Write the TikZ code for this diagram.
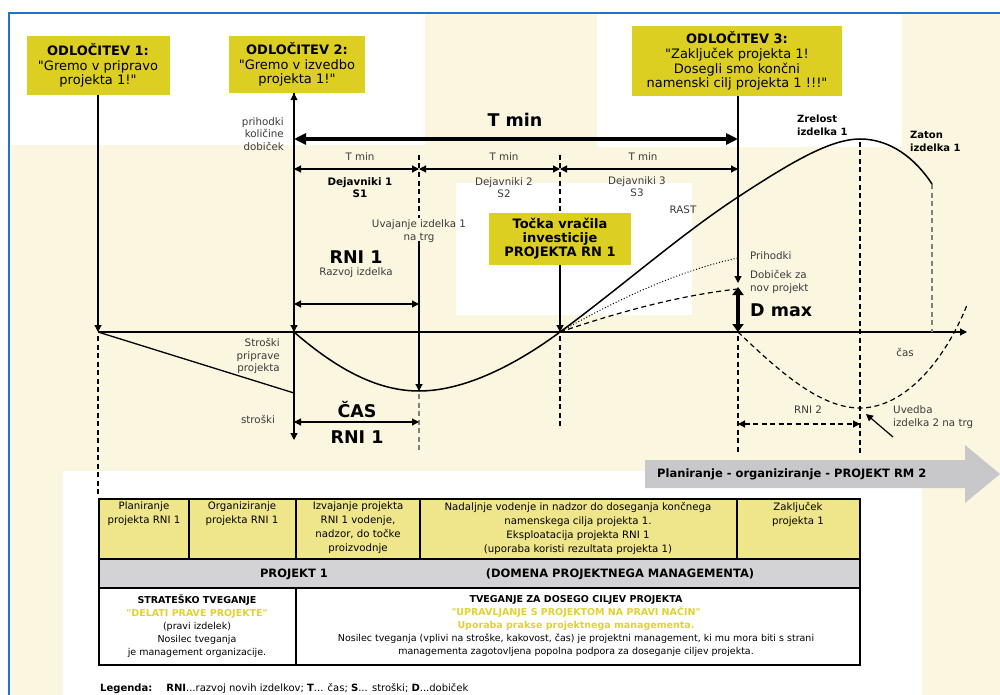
\documentclass[tikz,border=0pt]{standalone}
\usepackage{fontspec}
\setmainfont{DejaVu Sans}
\usetikzlibrary{arrows.meta}

\definecolor{cream}{HTML}{FBF6DF}
\definecolor{boxyellow}{HTML}{DDCF22}
\definecolor{rowyellow}{HTML}{EFE68C}
\definecolor{rowgray}{HTML}{D3D3D5}
\definecolor{arrowgray}{HTML}{C8C8CA}
\definecolor{txtyellow}{HTML}{E0D232}
\definecolor{frameblue}{HTML}{1F74C9}
\definecolor{labelgray}{HTML}{3A3A3A}

\newcommand{\fsmall}{\fontsize{10.3}{12.5}\selectfont}
\newcommand{\ftab}{\fontsize{10.2}{14}\selectfont}
\newcommand{\frisk}{\fontsize{9.5}{13}\selectfont}
\newcommand{\fdec}{\fontsize{13}{14.7}\selectfont}
\newcommand{\fbig}{\fontsize{17.5}{20}\selectfont\bfseries}
\newcommand{\qq}{\textquotedbl}

\begin{document}
\begin{tikzpicture}[x=1pt,y=-1pt,
    decision/.style={fill=boxyellow, inner sep=0pt, align=center, font=\fdec},
    lbl/.style={inner sep=0pt, align=center, text=labelgray, font=\fsmall},
    boldlbl/.style={inner sep=0pt, align=left, font=\fontsize{10}{13}\selectfont\bfseries},
    big/.style={inner sep=0pt, font=\fbig},
    cell/.style={inner sep=0pt, align=center, font=\ftab},
    arr/.style={line width=1.2pt, -{Triangle[length=7pt,width=7pt]}},
    darr/.style={line width=1.2pt, {Triangle[length=7pt,width=7pt]}-{Triangle[length=7pt,width=7pt]}},
    dashline/.style={line width=1.2pt, dash pattern=on 5pt off 3.5pt},
    dotline/.style={line width=1pt, dash pattern=on 1pt off 2pt},
    curve/.style={line width=1.5pt}]
\useasboundingbox (0,0) rectangle (1000,695);

% background
\fill[white] (0,0) rectangle (1000,695);
\fill[cream] (9,13) rectangle (1000,695);
\fill[white] (10,14) rectangle (425,145);
\fill[white] (597,14) rectangle (902,147);
\fill[white] (456,183) rectangle (692,315);
\fill[white] (63,471) rectangle (922,695);
\draw[frameblue, line width=2pt] (9,695) -- (9,13) -- (1000,13);

% decisions
\node[decision, minimum width=143pt, minimum height=59pt] (odl1) at (98,65.5)
    {\textbf{ODLOČITEV 1:}\\\qq Gremo v pripravo\\projekta 1!\qq};
\node[decision, minimum width=136pt, minimum height=57pt] (odl2) at (297,64.5)
    {\textbf{ODLOČITEV 2:}\\\qq Gremo v izvedbo\\projekta 1!\qq};
\node[decision, minimum width=210pt, minimum height=70pt] (odl3) at (737,61)
    {\textbf{ODLOČITEV 3:}\\\qq Zaključek projekta 1!\\Dosegli smo končni\\namenski cilj projekta 1 !!!\qq};
\node[decision, minimum width=142pt, minimum height=52pt, font=\fontsize{13}{14}\selectfont\bfseries] (tocka) at (560,239)
    {Točka vračila\\investicije\\PROJEKTA RN 1};

% axes
\coordinate (t1) at (98,332);
\coordinate (t2) at (294,332);
\coordinate (tb) at (560,332);
\coordinate (t3) at (738,332);
\coordinate (tend) at (967,332);
\coordinate (ybot) at (294,440);
\coordinate (mn) at (419,391);
\coordinate (pk) at (860,139);
\coordinate (zt) at (932,184);
\coordinate (mn2) at (860,408);

\draw[arr] (t1) -- (tend);
\draw[arr] (odl1.south) -- (t1);
\draw[dashline] (98,336) -- (98,495);
\draw[darr] (ybot) -- (odl2.south -| t2);
\draw[arr] (odl2.south -| t2) -- (t2);

% T min
\coordinate (tmL) at (294,139);
\coordinate (tmR) at (738,139);
\draw[line width=3.5pt, {Triangle[length=12pt,width=11pt]}-{Triangle[length=12pt,width=11pt]}] (tmL) -- (tmR);
\node[big] (tmin) at (515,120) {T min};
\node[lbl, align=right, anchor=east] (ydob) at (284,134) {prihodki\\količine\\dobiček};

\coordinate (s0) at (294,169);
\coordinate (s1) at (419,169);
\coordinate (s2) at (560,169);
\coordinate (s3) at (738,169);
\draw[darr] (s0) -- (s1);
\draw[darr] (s1) -- (s2);
\draw[darr] (s2) -- (s3);
\node[lbl] (tmin1) at (360,157) {T min};
\node[lbl] (tmin2) at (504,157) {T min};
\node[lbl] (tmin3) at (643,157) {T min};
\node[lbl, text=black, font=\fontsize{10.3}{12}\selectfont\bfseries] (dej1) at (360,188) {Dejavniki 1\\S1};
\node[lbl, font=\fontsize{10.3}{12}\selectfont] (dej2) at (504,188) {Dejavniki 2\\S2};
\node[lbl, font=\fontsize{10.3}{12}\selectfont] (dej3) at (637,187) {Dejavniki 3\\S3};

% vertical markers
\draw[dashline] (419,155) -- (419,218);
\node[lbl] (uvaj) at (419,231) {Uvajanje izdelka 1\\na trg};
\draw[arr] (419,241) -- (mn);
\draw[dashline, gray] (419,394) -- (419,453);
\draw[dashline] (560,155) -- (tocka.north);
\draw[arr] (tocka.south) -- (tb);
\draw[dashline] (560,336) -- (560,427);
\draw[arr] (odl3.south -| t3) -- (738,283);
\draw[line width=4pt, {Triangle[length=8pt,width=11pt]}-{Triangle[length=8pt,width=11pt]}] (738,287) -- (t3);
\draw[dashline] (738,336) -- (738,453);
\draw[dashline] (860,142) -- (860,453);
\draw[dashline, gray] (zt) -- (932,332);

% RNI 1
\node[big] (rni1) at (356,257) {RNI 1};
\node[lbl] (razvoj) at (356,273) {Razvoj izdelka};
\draw[darr] (294,304) -- (419,304);
\node[big] (cas) at (357,410) {ČAS};
\draw[darr] (294,422) -- (419,422);
\node[big] (rni1b) at (357,437) {RNI 1};
\node[lbl, align=right, anchor=east] (strpr) at (280,356) {Stroški\\priprave\\projekta};
\node[lbl] (str) at (258,419) {stroški};

% curves
\draw[line width=1.3pt] (t1) -- (294,393);
\draw[curve] (t2) .. controls (340,372) and (380,391) .. (mn)
    .. controls (470,391) and (525,358) .. (tb)
    .. controls (620,288) and (680,235) .. (738,197)
    .. controls (790,163) and (830,139) .. (pk)
    .. controls (890,139) and (915,158) .. (zt);
\draw[dotline] (tb) .. controls (630,292) and (690,268) .. (738,258);
\draw[dashline] (tb) .. controls (630,308) and (690,294) .. (738,289);
\draw[dashline] (t3) .. controls (780,372) and (820,408) .. (mn2)
    .. controls (905,408) and (945,360) .. (967,305);

\node[lbl] (rast) at (683,210) {RAST};
\node[lbl, anchor=west] (prih) at (750,256) {Prihodki};
\node[lbl, anchor=west, align=left] (dobnov) at (750,282) {Dobiček za\\nov projekt};
\node[big, anchor=west] (dmax) at (750,310) {D max};
\node[boldlbl, anchor=west] (zrel) at (797,125) {Zrelost\\izdelka 1};
\node[boldlbl, anchor=west] (zaton) at (910,141) {Zaton\\izdelka 1};
\node[lbl] (cas2) at (905,352) {čas};
\node[lbl] (rni2) at (808,410) {RNI 2};
\draw[dashline, {Triangle[length=7pt,width=7pt]}-{Triangle[length=7pt,width=7pt]}] (738,424) -- (860,424);
\node[lbl, anchor=west, align=left] (uvedba) at (893,417) {Uvedba\\izdelka 2 na trg};
\draw[arr] (893,437) -- (866,414);

% RM 2 arrow
\fill[arrowgray] (645,460) -- (965,460) -- (965,445) -- (1000,474) -- (965,503) -- (965,488) -- (645,488) -- cycle;
\node[inner sep=0pt, anchor=west, font=\fontsize{11.5}{12}\selectfont\bfseries] (rm2) at (657,474) {Planiranje - organiziranje - PROJEKT RM 2};

% table
\fill[rowyellow] (99,499) rectangle (860,559);
\fill[rowgray] (99,559) rectangle (860,588);
\fill[white] (99,588) rectangle (860,665);
\draw[line width=1.3pt] (99,499) rectangle (860,665);
\draw[line width=1.3pt] (99,559) -- (860,559);
\draw[line width=1.3pt] (99,588) -- (860,588);
\foreach \cx in {189,296,420,737}
    \draw[line width=1.3pt] (\cx,499) -- (\cx,559);
\draw[line width=1.3pt] (296,588) -- (296,665);

\node[cell] (c1) at (144,514) {Planiranje\\projekta RNI 1};
\node[cell] (c2) at (242,514) {Organiziranje\\projekta RNI 1};
\node[cell] (c3) at (358,528) {Izvajanje projekta\\RNI 1 vodenje,\\nadzor, do točke\\proizvodnje};
\node[cell] (c4) at (578,528) {Nadaljnje vodenje in nadzor do doseganja končnega\\namenskega cilja projekta 1.\\Eksploatacija projekta RNI 1\\(uporaba koristi rezultata projekta 1)};
\node[cell] (c5) at (798,514) {Zaključek\\projekta 1};
\node[cell, font=\fontsize{11.5}{14}\selectfont\bfseries] (proj1) at (294,574) {PROJEKT 1};
\node[cell, font=\fontsize{11.5}{14}\selectfont\bfseries] (domena) at (620,574) {(DOMENA PROJEKTNEGA MANAGEMENTA)};
\node[cell, font=\frisk] (risk1) at (197,626) {\textbf{STRATEŠKO TVEGANJE}\\\textcolor{txtyellow}{\textbf{\qq DELATI PRAVE PROJEKTE\qq}}\\(pravi izdelek)\\Nosilec tveganja\\je management organizacije.};
\node[cell, font=\frisk] (risk2) at (576,626) {\textbf{TVEGANJE ZA DOSEGO CILJEV PROJEKTA}\\\textcolor{txtyellow}{\textbf{\qq UPRAVLJANJE S PROJEKTOM NA PRAVI NAČIN\qq}}\\\textcolor{txtyellow}{\textbf{Uporaba prakse projektnega managementa.}}\\Nosilec tveganja (vplivi na stroške, kakovost, čas) je projektni management, ki mu mora biti s strani\\managementa zagotovljena popolna podpora za doseganje ciljev projekta.};

% legend
\node[inner sep=0pt, anchor=west, font=\fontsize{10}{12}\selectfont] (legenda) at (100,689)
    {\textbf{Legenda:}\hspace{14pt}\textbf{RNI}...razvoj novih izdelkov; \textbf{T}... čas; \textbf{S}... stroški; \textbf{D}...dobiček};
\end{tikzpicture}
\end{document}
